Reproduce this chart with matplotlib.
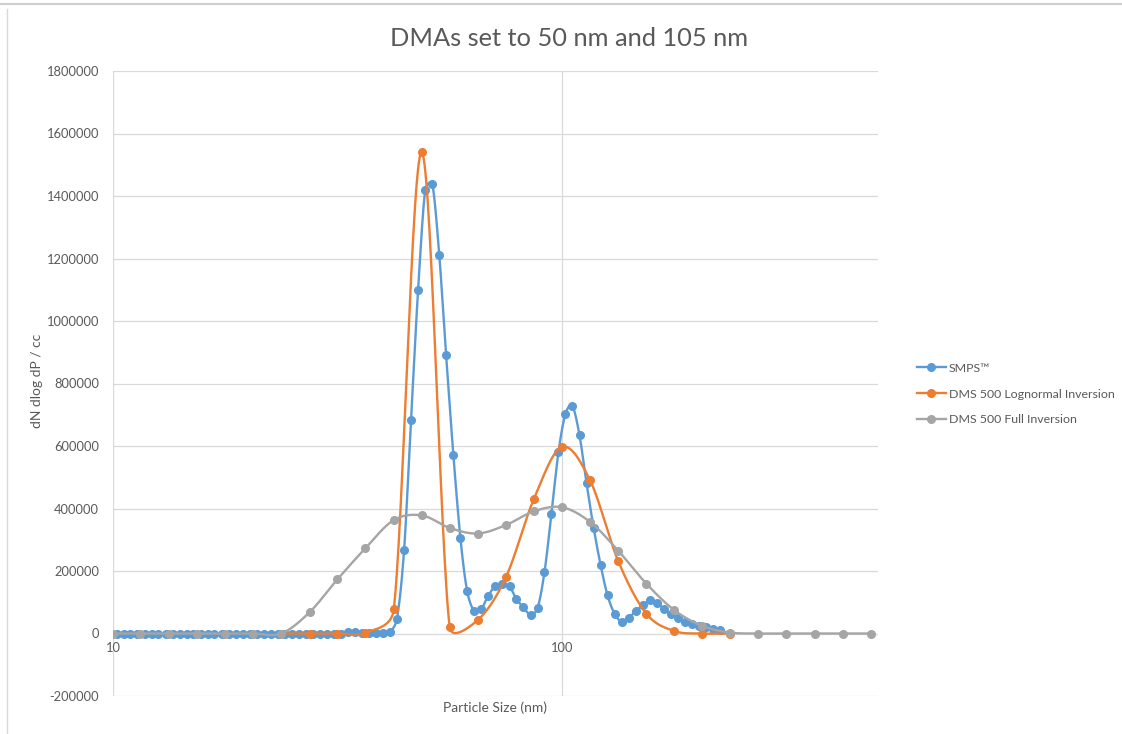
import numpy as np
import matplotlib
matplotlib.use("Agg")
import matplotlib.pyplot as plt
from matplotlib.lines import Line2D
from matplotlib.ticker import NullLocator, NullFormatter, FixedLocator

plt.rcParams["font.family"] = ["Lato", "DejaVu Sans"]

# SMPS channel midpoints (nm), 64 channels per decade
smps_size = [10.2, 10.6, 10.9, 11.3, 11.8, 12.2, 12.6, 13.1, 13.6, 14.1,
             14.6, 15.1, 15.7, 16.3, 16.8, 17.5, 18.1, 18.8, 19.5, 20.2,
             20.9, 21.7, 22.5, 23.3, 24.1, 25.0, 25.9, 26.9, 27.9, 28.9,
             30.0, 31.1, 32.2, 33.4, 34.6, 35.9, 37.2, 38.5, 40.0, 41.4,
             42.9, 44.5, 46.1, 47.8, 49.6, 51.4, 53.3, 55.2, 57.3, 59.4,
             61.5, 63.8, 66.1, 68.5, 71.0, 73.7, 76.4, 79.1, 82.0, 85.1,
             88.2, 91.4, 94.7, 98.2, 101.8, 105.5, 109.4, 113.4, 117.6, 121.9,
             126.3, 131.0, 135.8, 140.7, 145.9, 151.2, 156.8, 162.5, 168.5, 174.7,
             181.1, 187.7, 194.6, 201.7, 209.1, 216.7, 224.7]
smps_conc = [0, 0, 0, 0, 0, 0, 0, 0, 0, 0,
             0, 0, 0, 0, 0, 0, 0, 0, 0, 0,
             0, 0, 0, 0, 0, 0, 0, 0, 0, 0,
             0, 0, 0, 4000, 6000, 3000, 2000, 1000, 2000, 5000,
             48000, 268000, 682000, 1098000, 1420000, 1440000, 1210000, 890000, 570000, 305000,
             135000, 71000, 78000, 121000, 151000, 160000, 151000, 111000, 84000, 60000,
             81000, 196000, 381000, 580000, 703000, 727000, 634000, 481000, 339000, 219000,
             122000, 63000, 38000, 49000, 72000, 90000, 106000, 97000, 79000, 61000,
             49000, 36000, 29000, 23000, 20000, 15000, 12000]

# DMS500 channels (nm), 16 per decade
dms_size = [10.0, 11.5, 13.3, 15.4, 17.8, 20.5, 23.7, 27.4, 31.6, 36.5,
            42.2, 48.7, 56.2, 64.9, 75.0, 86.6, 100.0, 115.5, 133.4, 154.0,
            177.8, 205.4, 237.1, 273.8, 316.2, 365.2, 421.7, 487.0]
full_conc = [0, 0, 0, 0, 0, 0, 0, 68000, 173000, 273000,
             363000, 378000, 338000, 320000, 347000, 391000, 404000, 357000, 265000, 160000,
             75000, 24000, 3000, 0, 0, 0, 0, 0]
logn_size = dms_size[6:23]
logn_conc = [0, 0, 0, 2000, 77000, 1540000, 22000, 43000, 180000, 431000,
             597000, 490000, 232000, 64000, 8000, 0, 0]

series = [
    ("SMPS\u2122", smps_size, smps_conc, "#5B9BD5"),
    ("DMS 500 Lognormal Inversion", logn_size, logn_conc, "#ED7D31"),
    ("DMS 500 Full Inversion", dms_size, full_conc, "#A5A5A5"),
]

text_col = "#595959"
grid_col = "#D9D9D9"

W, H = 1122, 734
fig = plt.figure(figsize=(W / 100, H / 100), dpi=100)
ax = fig.add_axes([113 / W, 38 / H, 765 / W, 625 / H])
ax.set_xscale("log")
ax.set_xlim(10, 505.6)
ax.set_ylim(-200000, 1800000)


def smooth(ax, xs, ys, n=30):
    # Excel-like smoothed line: bezier segments, control arms capped at half segment
    pts = ax.transData.transform(np.column_stack([xs, ys]))
    out = [pts[0]]
    t = np.linspace(0, 1, n)[1:, None]
    last = len(pts) - 1
    for i in range(last):
        p0, p1 = pts[max(i - 1, 0)], pts[i]
        p2, p3 = pts[i + 1], pts[min(i + 2, last)]
        seg = np.hypot(*(p2 - p1))
        a1 = (p2 - p0) / 6
        a2 = (p3 - p1) / 6
        for a in (a1, a2):
            la = np.hypot(*a)
            if la > seg / 2 and la > 0:
                a *= (seg / 2) / la
        c1, c2 = p1 + a1, p2 - a2
        seg_pts = ((1 - t) ** 3 * p1 + 3 * (1 - t) ** 2 * t * c1
                   + 3 * (1 - t) * t ** 2 * c2 + t ** 3 * p2)
        out.extend(seg_pts)
    out = ax.transData.inverted().transform(np.array(out))
    return out[:, 0], out[:, 1]


handles = []
for z, (name, xs, ys, col) in enumerate(series):
    sx, sy = smooth(ax, xs, ys)
    ax.plot(sx, sy, color=col, lw=1.7, zorder=3 + 2 * z, solid_capstyle="round")
    ax.plot(xs, ys, ls="none", marker="o", ms=5.5, color=col, mec=col, zorder=4 + 2 * z)
    handles.append(Line2D([], [], color=col, lw=1.7, marker="o", ms=5.5, label=name))

# axes styling
for s in ax.spines.values():
    s.set_visible(False)
ax.spines["bottom"].set_position(("data", 0))
ax.xaxis.set_minor_locator(NullLocator())
ax.xaxis.set_minor_formatter(NullFormatter())
ax.set_xticks([10, 100])
ax.set_xticklabels(["10", "100"])
ax.yaxis.set_major_locator(FixedLocator(np.arange(-200000, 1800001, 200000)))
ax.set_yticklabels([f"{v:d}" for v in range(-200000, 1800001, 200000)])
ax.tick_params(axis="both", length=0, labelsize=9.3, colors=text_col)
ax.tick_params(axis="x", pad=6)
ax.tick_params(axis="y", pad=10)
ax.grid(True, which="major", color=grid_col, lw=0.9, zorder=0)
ax.set_axisbelow(True)

ax.text(0.5, -0.019, "Particle Size (nm)", transform=ax.transAxes, ha="center",
        va="center", fontsize=10, color=text_col)
fig.text(37 / W, 1 - 381 / H, "dN dlog dP / cc", rotation=90, ha="center",
         va="center", fontsize=10, color=text_col)
fig.text(569 / W, 1 - 38 / H, "DMAs set to 50 nm and 105 nm", ha="center",
         va="center", fontsize=18.3, color=text_col)

fig.legend(handles=handles, loc="center left", bbox_to_anchor=(911 / W, 1 - 394 / H),
           frameon=False, fontsize=8.9, labelcolor=text_col, handlelength=2.3,
           handletextpad=0.25, labelspacing=1.2, borderpad=0, numpoints=1)

# chart frame edges visible in the screenshot
fig.add_artist(Line2D([0, 1], [1 - 4 / H, 1 - 4 / H], transform=fig.transFigure,
                      color="#CFCFCF", lw=1.5))
fig.add_artist(Line2D([7 / W, 7 / W], [0, 1 - 9 / H], transform=fig.transFigure,
                      color="#D9D9D9", lw=1.0))

fig.savefig("out.png", dpi=100)
